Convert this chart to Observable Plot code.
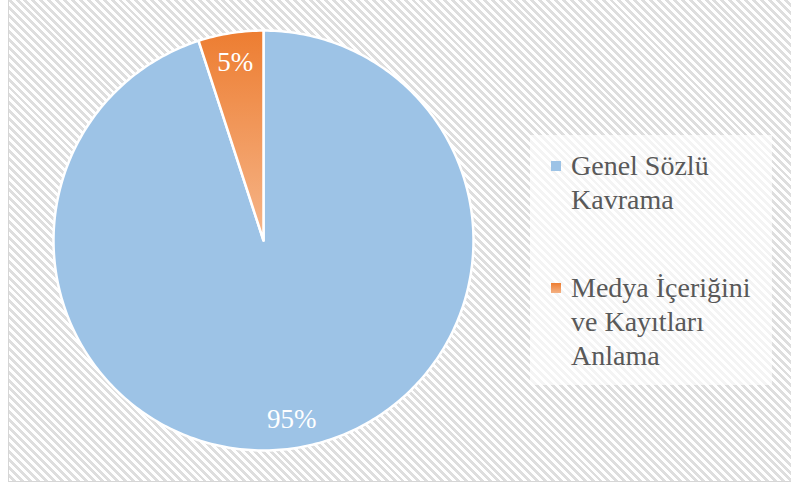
<!DOCTYPE html>
<html><head><meta charset="utf-8">
<script src="https://cdn.jsdelivr.net/npm/d3@7"></script>
<script src="https://cdn.jsdelivr.net/npm/@observablehq/plot@0.6"></script>
</head>
<body style="margin:0;background:#fff;font-family:'Liberation Serif'">
<div id="wrap" style="position:relative;width:791px;height:484px;overflow:hidden;font-family:'Liberation Serif'">
  <div id="frame" style="position:absolute;left:8px;top:-2px;width:800px;height:484px;border-left:1.5px solid #d6d6d6;border-bottom:1.5px solid #d6d6d6;box-sizing:border-box;background:repeating-linear-gradient(45deg,#ffffff 0 2.8px,#dedede 2.8px 5.6px)"></div>
  <div id="legbox" style="position:absolute;left:530px;top:135px;width:242px;height:250px;background:rgba(255,255,255,0.65)"></div>
  <div id="chart" style="position:absolute;left:0;top:0"></div>
</div>
<script>
const categories = ["Genel Sözlü Kavrama", "Medya İçeriğini ve Kayıtları Anlama"];
const values = [95, 5];
const labels = ["95%", "5%"];
const colors = ["#9DC3E6", "url(#orangeGrad)"];
const serif = "Liberation Serif";

const arcs = d3.pie().sort(null)(values);
const slices = [];
arcs.forEach((a, i) => {
  const n = Math.max(2, Math.ceil((a.endAngle - a.startAngle) / (Math.PI / 180)));
  slices.push({slice: categories[i], x: 0, y: 0});
  for (let k = 0; k <= n; k++) {
    const t = a.startAngle + (a.endAngle - a.startAngle) * k / n;
    slices.push({slice: categories[i], x: Math.sin(t), y: Math.cos(t)});
  }
  slices.push({slice: categories[i], x: 0, y: 0});
});
const labelPts = arcs.map((a, i) => {
  const m = (a.startAngle + a.endAngle) / 2;
  return {label: labels[i], x: 0.86 * Math.sin(m), y: 0.86 * Math.cos(m)};
});

const defs = () => {
  const d = d3.create("svg:defs");
  const g = d.append("linearGradient").attr("id", "orangeGrad")
    .attr("x1", 0).attr("y1", 0).attr("x2", 0).attr("y2", 1);
  g.append("stop").attr("offset", "0%").attr("stop-color", "#ED7D31");
  g.append("stop").attr("offset", "100%").attr("stop-color", "#F6B68A");
  return d.node();
};

const chart = Plot.plot({
  width: 791, height: 484,
  margin: 0,
  style: {background: "transparent", overflow: "visible", fontFamily: serif},
  x: {domain: [-1, 1], range: [53, 473], axis: null},
  y: {domain: [-1, 1], range: [450, 30], axis: null},
  color: {domain: categories, range: colors},
  marks: [
    defs,
    Plot.line(slices, {x: "x", y: "y", z: "slice", fill: "slice", stroke: "white", strokeWidth: 2.5, strokeLinejoin: "round", curve: "linear"}),
    Plot.text(labelPts, {x: "x", y: "y", text: "label", fill: "white", fontSize: 27, fontFamily: serif})
  ]
});
document.getElementById("chart").appendChild(chart);

const wrap = document.getElementById("wrap");
const tops = [149, 271];
const swatch = ["#9DC3E6", "linear-gradient(#ED7D31,#F4B183)"];
categories.forEach((c, i) => {
  const it = document.createElement("div");
  it.style.cssText = "position:absolute;left:551px;width:215px;top:" + tops[i] + "px";
  const sw = document.createElement("div");
  sw.style.cssText = "position:absolute;left:0;top:12px;width:10px;height:10px";
  sw.style.background = swatch[i];
  const lt = document.createElement("div");
  lt.style.cssText = "position:absolute;left:20px;top:0;width:200px;font-size:28px;line-height:34px;color:#595959";
  lt.style.fontFamily = serif;
  lt.textContent = c;
  it.appendChild(sw);
  it.appendChild(lt);
  wrap.appendChild(it);
});
</script>
</body></html>
